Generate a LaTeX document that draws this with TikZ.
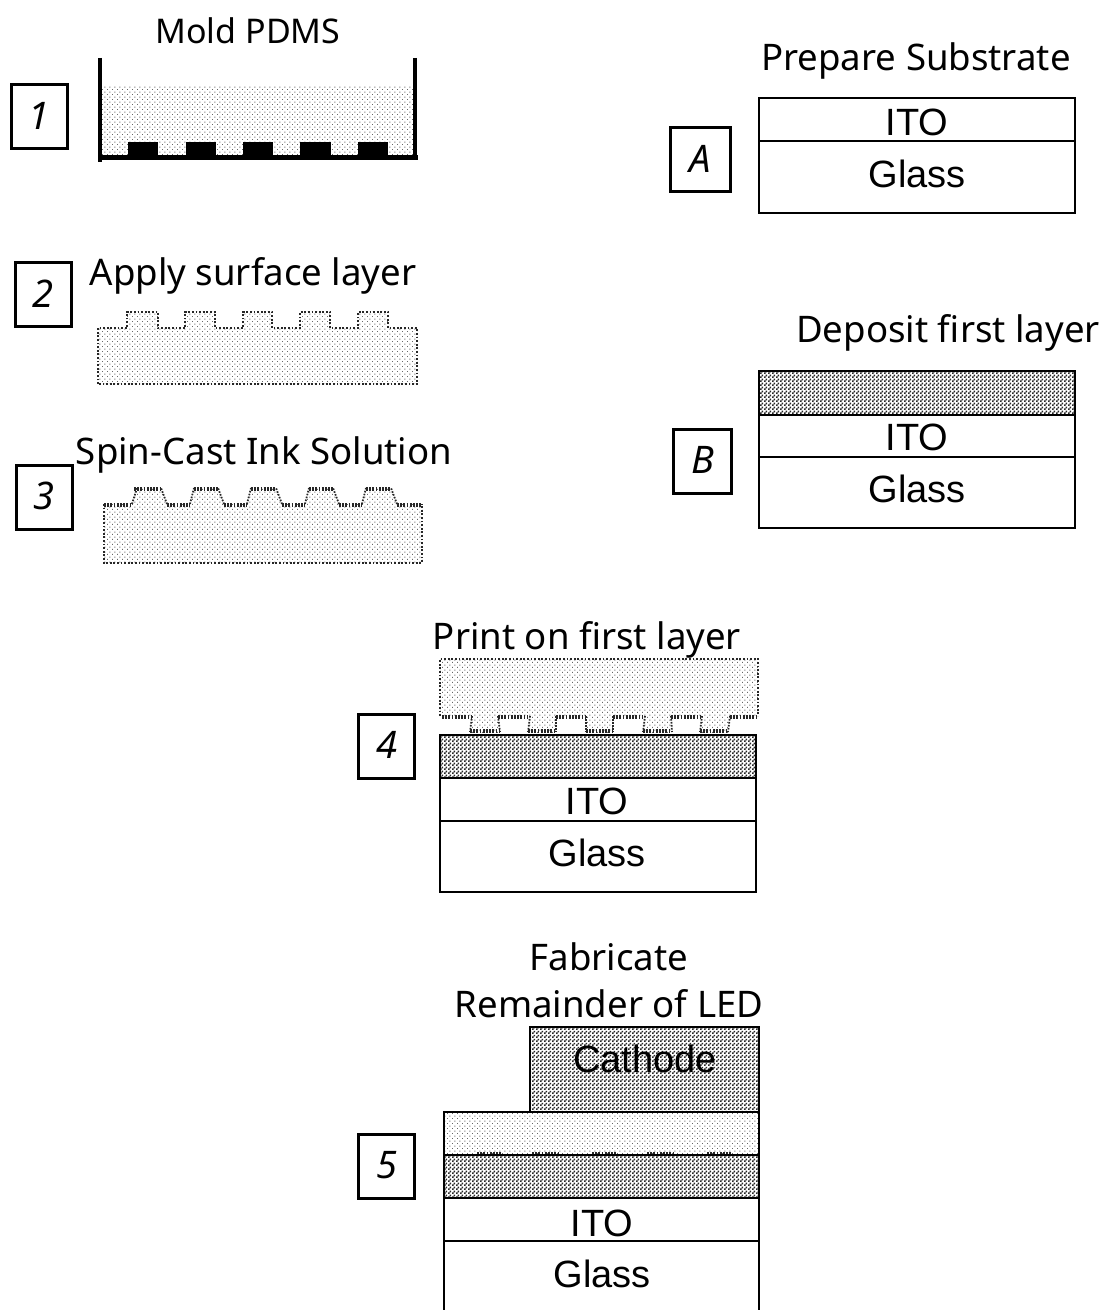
\documentclass[tikz,border=0pt]{standalone}
\usepackage{fontspec}
\setmainfont{Noto Sans}
\newfontfamily\labelfont{Liberation Sans}
\usetikzlibrary{patterns}
\pgfdeclarepatternformonly{lightdots}{\pgfqpoint{0pt}{0pt}}{\pgfqpoint{2.7pt}{2.7pt}}{\pgfqpoint{2.7pt}{2.7pt}}{%
  \pgfpathrectangle{\pgfqpoint{0pt}{0pt}}{\pgfqpoint{.55pt}{.55pt}}%
  \pgfpathrectangle{\pgfqpoint{1.35pt}{1.35pt}}{\pgfqpoint{.55pt}{.55pt}}%
  \pgfusepath{fill}}
\pgfdeclarepatternformonly{darkdots}{\pgfqpoint{0pt}{0pt}}{\pgfqpoint{2pt}{2pt}}{\pgfqpoint{2pt}{2pt}}{%
  \pgfpathrectangle{\pgfqpoint{0pt}{0pt}}{\pgfqpoint{1pt}{1pt}}%
  \pgfpathrectangle{\pgfqpoint{1pt}{1pt}}{\pgfqpoint{1pt}{1pt}}%
  \pgfusepath{fill}}
\newcommand{\numtext}[1]{\raisebox{1pt}{#1}}
\tikzset{
  x=0.5pt,y=-0.5pt,
  numbox/.style={draw=black,line width=1.5pt,fill=white,minimum width=28pt,minimum height=32pt,inner sep=0pt,font=\fontsize{19}{21}\selectfont\itshape},
  heading/.style={inner sep=0pt,font=\fontsize{18.3}{20}\selectfont},
  layertext/.style={inner sep=0pt,font=\labelfont\fontsize{19}{22}\selectfont},
  frame/.style={draw=black,line width=1.4pt},
  trayline/.style={draw=black,line width=2.3pt},
  lightfill/.style={pattern=lightdots,pattern color=black!60},
  darkfill/.style={pattern=darkdots,pattern color=black!85},
  stampedge/.style={draw=black!85,line width=1pt,dash pattern=on .9pt off .9pt},
  inkedge/.style={draw=black!85,line width=1.6pt,dash pattern=on .9pt off .7pt},
  inkwall/.style={draw=black!85,line width=.9pt,dash pattern=on .8pt off .7pt},
}
\begin{document}
\begin{tikzpicture}
\path[use as bounding box] (0,0) rectangle (1106,1310);
\clip (0,0) rectangle (1106,1310);
% headings
\node[heading,font=\fontsize{17}{20}\selectfont] (t1) at (248,31) {Mold PDMS};
\node[heading] (tA) at (916,61) {Prepare Substrate};
\node[heading] (t2) at (253,276) {Apply surface layer};
\node[heading] (tB) at (948,333) {Deposit first layer};
\node[heading] (t3) at (264,455) {Spin-Cast Ink Solution};
\node[heading] (t4) at (587,640) {Print on first layer};
\node[heading] (t5a) at (609,957) {Fabricate};
\node[heading] (t5b) at (609,1004) {Remainder of LED};
% number boxes
\node[numbox] (n1) at (39,116.5) {\numtext{1}};
\node[numbox] (n2) at (43,295) {\numtext{2}};
\node[numbox] (n3) at (44,497) {\numtext{3}};
\node[numbox] (n4) at (386.5,746) {\numtext{4}};
\node[numbox] (n5) at (386.5,1166) {\numtext{5}};
\node[numbox,minimum width=30pt] (nA) at (700.5,160) {\numtext{A}};
\node[numbox,minimum width=29pt] (nB) at (702.5,461) {\numtext{B}};
% step 1
\fill[lightfill] (102,86) rectangle (413,156);
\foreach \a/\b in {128/158,186/216,243/273,300/331,358/388}
  \fill[black] (\a,142) rectangle (\b,157);
\draw[trayline] (100,58) -- (100,162);
\draw[trayline] (415,58) -- (415,158);
\draw[trayline] (98,157.5) -- (418,157.5);
% step 2
\def\stamptwo{(98,384) -- (98,328) -- (127,328) -- (127,312) -- (158,312) -- (158,328) -- (185,328) -- (185,312) -- (215,312) -- (215,328) -- (243,328) -- (243,312) -- (272,312) -- (272,328) -- (300,328) -- (300,312) -- (330,312) -- (330,328) -- (358,328) -- (358,312) -- (388,312) -- (388,328) -- (417,328) -- (417,384) -- cycle}
\fill[lightfill] \stamptwo;
\draw[stampedge] \stamptwo;
% step 3
\fill[lightfill] (104,563) -- (104,504) -- (132,504) -- (137,488) -- (161,488) -- (167,504) -- (190,504) -- (194,488) -- (218,488) -- (224,504) -- (247,504) -- (251,488) -- (276,488) -- (282,504) -- (305,504) -- (309,488) -- (333,488) -- (339,504) -- (362,504) -- (366,488) -- (391,488) -- (397,504) -- (422,504) -- (422,563) -- cycle;
\draw[stampedge] (104,504) -- (104,563) -- (422,563) -- (422,504);
\foreach \a/\b in {104/132,167/190,224/247,282/305,339/362,397/422}
  \draw[inkedge] (\a,505) -- (\b,505);
\foreach \a/\b in {134/161,194/218,251/276,309/333,366/391}
  \draw[inkedge] (\a,489) -- (\b,489);
\foreach \a/\b in {132/137,167/161,190/194,224/218,247/251,282/276,305/309,339/333,362/366,397/391}
  \draw[inkwall] (\a,504) -- (\b,488);
% step A
\draw[frame] (759,98) rectangle (1075,213);
\draw[frame] (759,141) -- (1075,141);
\node[layertext] (itoA) at (917,122) {ITO};
\node[layertext] (glassA) at (917,174) {Glass};
% step B
\fill[darkfill] (759,371) rectangle (1075,415);
\draw[frame] (759,371) rectangle (1075,528);
\draw[frame] (759,415) -- (1075,415);
\draw[frame] (759,457) -- (1075,457);
\node[layertext] (itoB) at (917,437) {ITO};
\node[layertext] (glassB) at (917,489) {Glass};
% step 4
\fill[lightfill] (440,659) -- (758,659) -- (758,716) -- (730,716) -- (728,733) -- (700,733) -- (702,716) -- (671,716) -- (672,733) -- (643,733) -- (645,716) -- (613,716) -- (613,733) -- (586,733) -- (586,716) -- (556,716) -- (556,733) -- (528,733) -- (530,716) -- (498,716) -- (500,733) -- (470,733) -- (472,716) -- (440,716) -- cycle;
\draw[stampedge] (440,716) -- (440,659) -- (758,659) -- (758,716);
\foreach \a/\b in {442/472,498/528,556/586,613/643,671/700,730/758}
  \draw[inkedge] (\a,717) -- (\b,717);
\foreach \a/\b in {470/500,528/556,586/613,643/671,700/728}
  \draw[inkedge] (\a,731) -- (\b,731);
\foreach \a/\b in {472/470,498/500,530/528,556/556,586/586,613/613,645/643,671/672,702/700,730/728}
  \draw[inkwall] (\a,716) -- (\b,732);
\fill[darkfill] (440,735) rectangle (756,778);
\draw[frame] (440,735) rectangle (756,892);
\draw[frame] (440,778) -- (756,778);
\draw[frame] (440,821) -- (756,821);
\node[layertext] (ito4) at (597,801) {ITO};
\node[layertext] (glass4) at (597,853) {Glass};
% step 5
\fill[darkfill] (530,1027) rectangle (759,1112);
\draw[frame] (530,1112) -- (530,1027) -- (759,1027) -- (759,1112);
\node[layertext] (cathode) at (645,1059) {Cathode};
\fill[lightfill] (444,1112) rectangle (759,1155);
\fill[darkfill] (444,1155) rectangle (759,1198);
\draw[frame] (444,1112) rectangle (759,1320);
\draw[frame] (444,1155) -- (759,1155);
\draw[frame] (444,1198) -- (759,1198);
\draw[frame] (444,1241) -- (759,1241);
\foreach \a/\b in {477/502,532/560,592/617,647/675,707/732}
  \draw[draw=black!85,line width=1.1pt,dash pattern=on .9pt off .7pt] (\a,1153) -- (\b,1153);
\node[layertext] (ito5) at (602,1223) {ITO};
\node[layertext] (glass5) at (602,1274) {Glass};
\end{tikzpicture}
\end{document}
